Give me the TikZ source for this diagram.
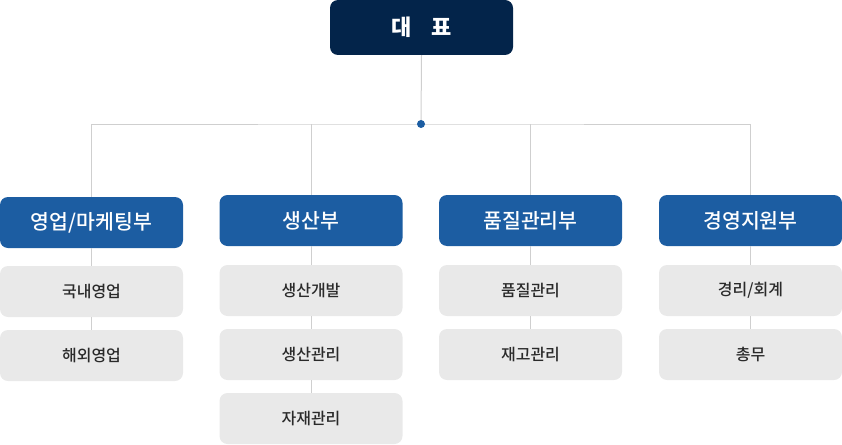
\documentclass[tikz,border=0pt]{standalone}
\usepackage{fontspec}
\setmainfont{Noto Sans CJK KR}
\newfontfamily\medfont{Noto Sans CJK KR Medium}
\definecolor{navy}{HTML}{03244A}
\definecolor{deptblue}{HTML}{1C5DA2}
\definecolor{subgrey}{HTML}{E9E9E9}
\definecolor{linegrey}{HTML}{CFCFCF}
\definecolor{subtext}{HTML}{2A2A2A}
\begin{document}
\begin{tikzpicture}[x=1pt,y=-1pt,
  topbox/.style={fill=navy,rounded corners=8pt,minimum width=183pt,minimum height=55pt,inner sep=0pt,text=white,font=\fontsize{22}{26}\selectfont\bfseries},
  deptbox/.style={fill=deptblue,rounded corners=8pt,minimum width=183pt,minimum height=51pt,inner sep=0pt,text=white,font=\medfont\fontsize{20.5}{24}\selectfont},
  subbox/.style={fill=subgrey,rounded corners=8pt,minimum width=183pt,minimum height=51pt,inner sep=0pt,text=subtext,font=\medfont\fontsize{16}{19}\selectfont},
  conn/.style={draw=linegrey,line width=1pt},
  hub/.style={circle,fill=deptblue,inner sep=0pt,minimum size=8pt}]
\useasboundingbox (0,0) rectangle (842,444);
% nodes
\node[topbox] (top) at (421.5,27.5) {대\hspace{20pt}표};
\coordinate (hubpt) at (421,124);
\node[deptbox] (d1) at (91.5,222.5) {영업/마케팅부};
\node[deptbox] (d2) at (311,220.5) {생산부};
\node[deptbox] (d3) at (530.5,220.5) {품질관리부};
\node[deptbox] (d4) at (750.5,220.5) {경영지원부};
\node[subbox] (s11) at (91.5,291.5) {국내영업};
\node[subbox] (s12) at (91.5,355.5) {해외영업};
\node[subbox] (s21) at (311,290.5) {생산개발};
\node[subbox] (s22) at (311,354.5) {생산관리};
\node[subbox] (s23) at (311,418.5) {자재관리};
\node[subbox] (s31) at (530.5,290.5) {품질관리};
\node[subbox] (s32) at (530.5,354.5) {재고관리};
\node[subbox] (s41) at (750.5,290.5) {경리/회계};
\node[subbox] (s42) at (750.5,354.5) {총무};
% connectors
\draw[conn] (top.south) -- (hubpt);
\draw[conn] (d1.north) |- (hubpt) -| (d4.north);
\draw[conn] (d2.north) -- (d2.north |- hubpt);
\draw[conn] (d3.north) -- (d3.north |- hubpt);
\foreach \a/\b in {d1/s11,s11/s12,d2/s21,s21/s22,s22/s23,d3/s31,s31/s32,d4/s41,s41/s42}
  \draw[conn] (\a.south) -- (\b.north);
\node[hub] (dot) at (hubpt) {};
\end{tikzpicture}
\end{document}
